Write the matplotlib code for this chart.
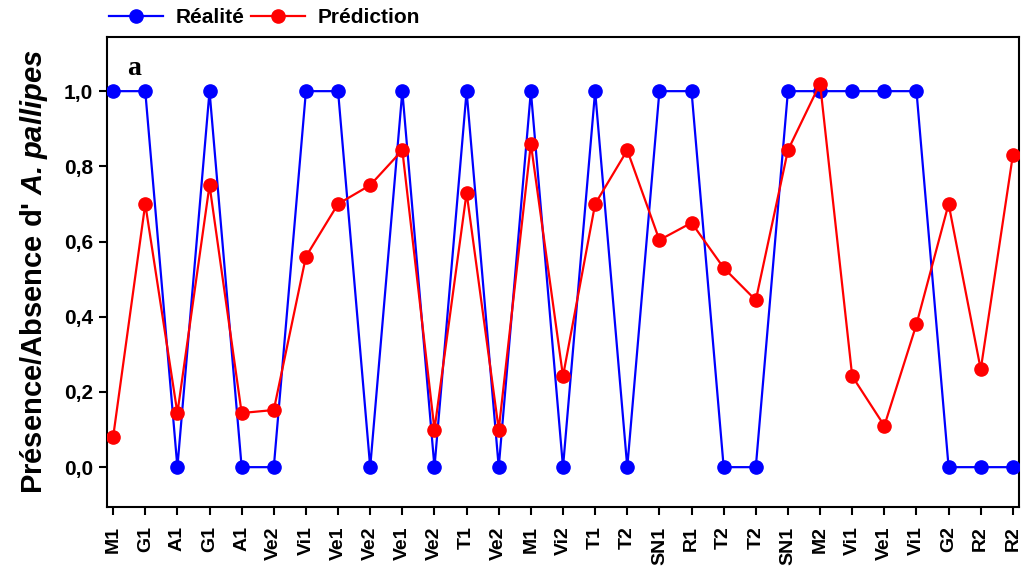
import matplotlib
matplotlib.use("Agg")
import matplotlib.pyplot as plt

# sites (x axis), observed presence and predicted probability
sites = ["M1", "G1", "A1", "G1", "A1", "Ve2", "Vi1", "Ve1", "Ve2", "Ve1",
         "Ve2", "T1", "Ve2", "M1", "Vi2", "T1", "T2", "SN1", "R1", "T2",
         "T2", "SN1", "M2", "Vi1", "Ve1", "Vi1", "G2", "R2", "R2"]
realite = [1, 1, 0, 1, 0, 0, 1, 1, 0, 1,
           0, 1, 0, 1, 0, 1, 0, 1, 1, 0,
           0, 1, 1, 1, 1, 1, 0, 0, 0]
prediction = [0.08, 0.70, 0.144, 0.75, 0.144, 0.152, 0.56, 0.70, 0.75, 0.843,
              0.10, 0.73, 0.10, 0.86, 0.242, 0.70, 0.843, 0.604, 0.65, 0.53,
              0.444, 0.843, 1.02, 0.242, 0.11, 0.38, 0.70, 0.26, 0.83]
yticks = [0.0, 0.2, 0.4, 0.6, 0.8, 1.0]

plt.rcParams["font.family"] = ["Liberation Sans", "DejaVu Sans"]
plt.rcParams["font.weight"] = "bold"
plt.rcParams["mathtext.fontset"] = "custom"
plt.rcParams["mathtext.bfit"] = "Liberation Sans:italic:bold"

fig = plt.figure(figsize=(10.3, 5.72), dpi=100)
ax = fig.add_axes([0.1039, 0.1136, 0.8854, 0.8217])

x = list(range(len(sites)))
ax.plot(x, realite, color="#0000ff", marker="o", markersize=9.5, linewidth=1.6,
        label="Réalité", zorder=3)
ax.plot(x, prediction, color="#ff0000", marker="o", markersize=9.5, linewidth=1.6,
        label="Prédiction", zorder=4)

ax.set_xlim(-0.19, 28.19)
ax.set_ylim(-0.106, 1.144)
ax.set_xticks(x)
ax.set_xticklabels(sites, rotation=90, fontsize=14, fontweight="bold")
ax.set_yticks(yticks)
ax.set_yticklabels([f"{v:.1f}".replace(".", ",") for v in yticks],
                   fontsize=15, fontweight="bold")
ax.tick_params(direction="out", length=6, width=1.5, color="black")
ax.tick_params(axis="x", pad=8)
ax.tick_params(axis="y", pad=4)
for sp in ax.spines.values():
    sp.set_linewidth(1.5)

ax.set_ylabel(r"Présence/Absence d' $\mathbfit{A.}$$\mathbfit{pallipes}$",
              fontsize=21, fontweight="bold", labelpad=10)

ax.text(0.45, 1.06, "a", fontsize=20, fontweight="bold",
        family="Liberation Serif", ha="left", va="center")

fig.legend(loc="center left", bbox_to_anchor=(0.098, 0.969), ncol=2,
           frameon=False, fontsize=15, handlelength=2.6, handletextpad=0.6,
           columnspacing=0.3, borderaxespad=0)

fig.savefig("out.png", dpi=100, facecolor="white")
